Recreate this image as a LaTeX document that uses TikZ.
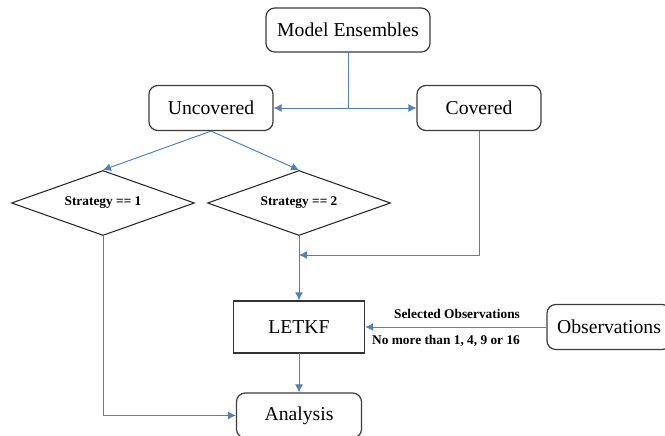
\documentclass[tikz,border=0pt]{standalone}
\usepackage{fontspec}
\setmainfont{Liberation Serif}
\usetikzlibrary{arrows.meta,shapes.geometric}
\definecolor{flowblue}{RGB}{79,129,189}
\definecolor{edgegray}{RGB}{60,60,60}

\begin{document}
\begin{tikzpicture}[>={Latex[length=4.5pt,width=4.5pt]},font=\fontsize{11.2}{13}\selectfont,line cap=round,
  rbox/.style={draw=edgegray,line width=0.7pt,rounded corners=5pt,minimum width=2.48cm,minimum height=0.9cm,inner sep=0pt},
  sbox/.style={draw=black!80,line width=0.8pt,minimum width=2.62cm,minimum height=1.04cm},
  decision/.style={diamond,aspect=2.8,draw=black!85,line width=0.6pt,minimum width=3.66cm,minimum height=1.3cm,inner sep=0pt,font=\fontsize{7.6}{9}\selectfont\bfseries},
  flow/.style={draw=flowblue,line width=0.55pt},
  tag/.style={font=\fontsize{7.6}{9}\selectfont\bfseries,inner sep=4.5pt}]
\useasboundingbox (0,0) rectangle (13.3,-8.72);
% boxes
\node[rbox,minimum width=3.28cm,minimum height=0.88cm] (ens) at (6.96,-0.60) {Model Ensembles};
\node[rbox] (unc) at (4.22,-2.16) {Uncovered};
\node[rbox] (cov) at (9.58,-2.16) {Covered};
\node[decision] (st1) at (2.06,-4.06) {Strategy == 1};
\node[decision] (st2) at (5.98,-4.06) {Strategy == 2};
\node[sbox] (letkf) at (5.98,-6.54) {LETKF};
\node[rbox] (obs) at (12.18,-6.54) {Observations};
\node[rbox,minimum width=2.5cm] (ana) at (5.98,-8.31) {Analysis};
\coordinate (split) at (ens.south |- unc.east);
\coordinate (join) at (5.98,-5.10);
% connectors
\draw[flow] (ens.south) -- (split);
\draw[flow,->] (split) -- (unc.east);
\draw[flow,->] (split) -- (cov.west);
\draw[flow,->] (unc.south) -- (st1.north);
\draw[flow,->] (unc.south) -- (st2.north);
\draw[flow,->] (cov.south) |- (join);
\draw[flow,->] (st2.south) -- (letkf.north);
\draw[flow,->] (obs.west) -- (letkf.east)
  node[tag,pos=0.1,above left]{Selected Observations}
  node[tag,pos=0.1,below left]{No more than 1, 4, 9 or 16};
\draw[flow,->] (letkf.south) -- (ana.north);
\draw[flow,->] (st1.south) |- (ana.west);
\end{tikzpicture}
\end{document}
